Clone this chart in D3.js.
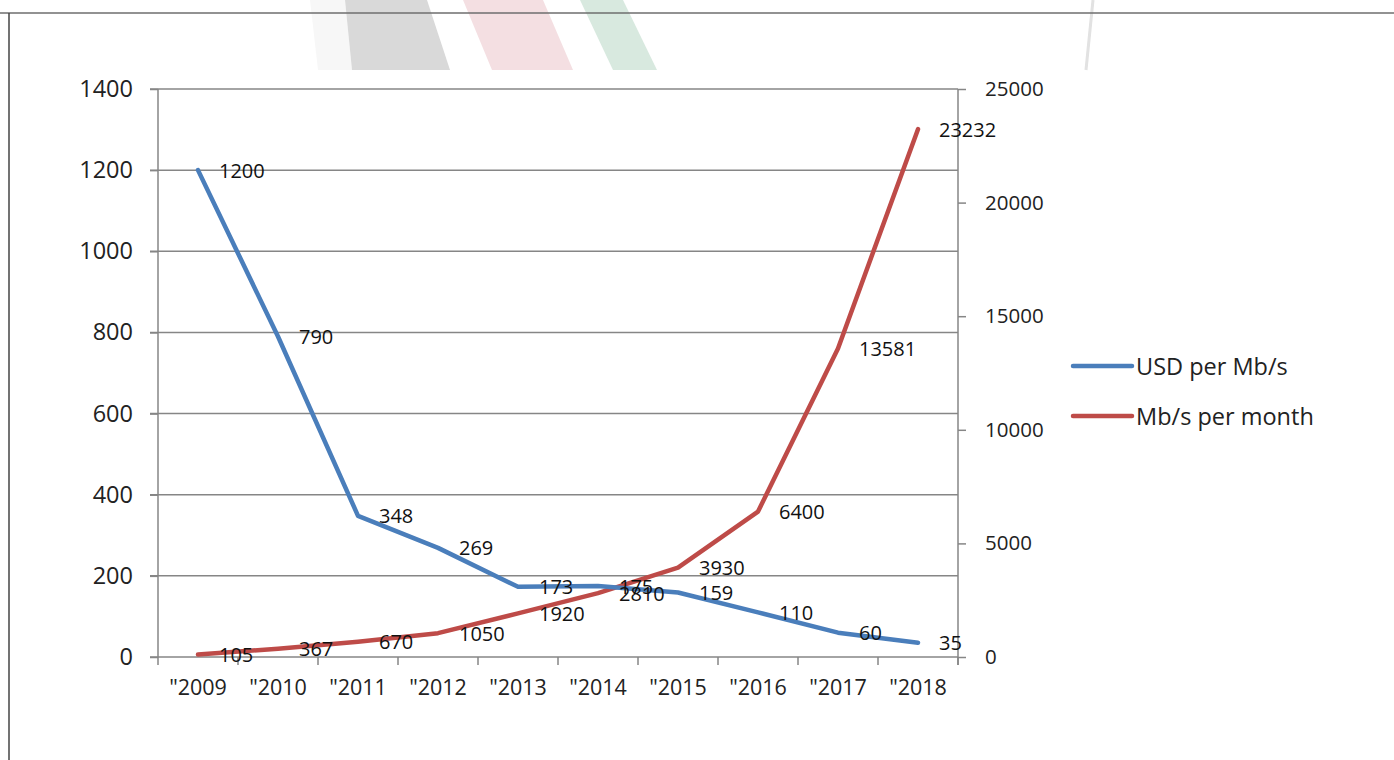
<!DOCTYPE html>
<html lang="en">
<head>
    <meta charset="UTF-8">
    <title>USD per Mb/s vs Mb/s per month</title>
    <script src="https://d3js.org/d3.v7.min.js"></script>
    <style>
        body {
            margin: 0;
            background: #fff;
        }

        svg {
            display: block;
        }

        svg text {
            font-family: "Open Sans", "DejaVu Sans", sans-serif;
        }

        .axis path {
            display: none;
        }

        .axis line {
            stroke: #868686;
            stroke-width: 1.5px;
        }

        .axis text {
            fill: #222;
        }
    </style>
</head>
<body>
    <script>
        // Data
        const years = ['"2009', '"2010', '"2011', '"2012', '"2013', '"2014', '"2015', '"2016', '"2017', '"2018'];
        const usdPerMbps = [1200, 790, 348, 269, 173, 175, 159, 110, 60, 35];
        const mbpsPerMonth = [105, 367, 670, 1050, 1920, 2810, 3930, 6400, 13581, 23232];
        const leftTicks = [0, 200, 400, 600, 800, 1000, 1200, 1400];
        const rightTicks = [0, 5000, 10000, 15000, 20000, 25000];
        const seriesNames = ["USD per Mb/s", "Mb/s per month"];

        const width = 1394;
        const height = 760;
        const plot = { left: 158, right: 958, top: 89, bottom: 657 };
        const blue = "#4a7ebb";
        const red = "#be4b48";

        const svg = d3.select("body")
            .append("svg")
            .attr("width", width)
            .attr("height", height);

        svg.append("rect")
            .attr("width", width)
            .attr("height", height)
            .attr("fill", "#fff");

        // Faded slide background peeking through at the top
        const deco = svg.append("g");
        deco.append("polygon")
            .attr("points", "310,0 345,0 352,70 318,70")
            .attr("fill", "#f7f7f7");
        deco.append("polygon")
            .attr("points", "345,0 427,0 450,70 352,70")
            .attr("fill", "#d9d9d9");
        deco.append("polygon")
            .attr("points", "463,0 543,0 573,70 492,70")
            .attr("fill", "#f4dfe2");
        deco.append("polygon")
            .attr("points", "580,0 623,0 657,70 613,70")
            .attr("fill", "#d8e9df");
        deco.append("line")
            .attr("x1", 1093).attr("y1", 0)
            .attr("x2", 1086).attr("y2", 70)
            .attr("stroke", "#e2e2e2")
            .attr("stroke-width", 3);

        // Frame of the chart object
        svg.append("line")
            .attr("x1", 0).attr("y1", 13)
            .attr("x2", width).attr("y2", 13)
            .attr("stroke", "#6e6e6e")
            .attr("stroke-width", 1.5);
        svg.append("line")
            .attr("x1", 9).attr("y1", 13)
            .attr("x2", 9).attr("y2", height)
            .attr("stroke", "#444")
            .attr("stroke-width", 1.5);

        // Scales
        const x = d3.scaleBand()
            .domain(years)
            .range([plot.left, plot.right])
            .padding(0);

        const yLeft = d3.scaleLinear()
            .domain([0, 1400])
            .range([plot.bottom, plot.top]);

        const yRight = d3.scaleLinear()
            .domain([0, 25000])
            .range([plot.bottom, plot.top]);

        const cx = d => x(d) + x.bandwidth() / 2;

        // Horizontal gridlines
        svg.append("g")
            .selectAll("line")
            .data(leftTicks)
            .enter()
            .append("line")
            .attr("x1", plot.left - 8)
            .attr("x2", plot.right)
            .attr("y1", d => yLeft(d))
            .attr("y2", d => yLeft(d))
            .attr("stroke", "#868686")
            .attr("stroke-width", 1.5);

        // Axis lines
        svg.append("line")
            .attr("x1", plot.left).attr("x2", plot.left)
            .attr("y1", plot.top).attr("y2", plot.bottom + 8)
            .attr("stroke", "#868686").attr("stroke-width", 1.5);
        svg.append("line")
            .attr("x1", plot.right).attr("x2", plot.right)
            .attr("y1", plot.top).attr("y2", plot.bottom + 8)
            .attr("stroke", "#868686").attr("stroke-width", 1.5);

        // Left axis
        svg.append("g")
            .attr("class", "axis")
            .attr("transform", `translate(${plot.left},0)`)
            .call(d3.axisLeft(yLeft).tickValues(leftTicks).tickFormat(d3.format("d")).tickSize(8).tickPadding(17))
            .selectAll("text")
            .style("font-size", "23.5px");

        // Right axis
        svg.append("g")
            .attr("class", "axis")
            .attr("transform", `translate(${plot.right},0)`)
            .call(d3.axisRight(yRight).tickValues(rightTicks).tickFormat(d3.format("d")).tickSize(8).tickPadding(19))
            .selectAll("text")
            .style("font-size", "20.5px");

        // Bottom axis: labels centred in each band, ticks on band edges
        const bottomAxis = svg.append("g")
            .attr("class", "axis")
            .attr("transform", `translate(0,${plot.bottom})`)
            .call(d3.axisBottom(x).tickSize(0).tickPadding(23));
        bottomAxis.selectAll("text").style("font-size", "21.5px");

        svg.append("g")
            .selectAll("line")
            .data(years)
            .enter()
            .append("line")
            .attr("x1", d => x(d) + x.bandwidth())
            .attr("x2", d => x(d) + x.bandwidth())
            .attr("y1", plot.bottom)
            .attr("y2", plot.bottom + 8)
            .attr("stroke", "#868686")
            .attr("stroke-width", 1.5);

        // Lines
        const blueLine = d3.line()
            .x((d, i) => cx(years[i]))
            .y(d => yLeft(d));

        const redLine = d3.line()
            .x((d, i) => cx(years[i]))
            .y(d => yRight(d));

        svg.append("path")
            .datum(mbpsPerMonth)
            .attr("d", redLine)
            .attr("fill", "none")
            .attr("stroke", red)
            .attr("stroke-width", 4.5)
            .attr("stroke-linecap", "round")
            .attr("stroke-linejoin", "round");

        svg.append("path")
            .datum(usdPerMbps)
            .attr("d", blueLine)
            .attr("fill", "none")
            .attr("stroke", blue)
            .attr("stroke-width", 4.5)
            .attr("stroke-linecap", "round")
            .attr("stroke-linejoin", "round");

        // Data labels, to the right of each point
        const labels = svg.append("g")
            .style("font-size", "20px")
            .attr("fill", "#111");

        labels.selectAll(".lblBlue")
            .data(usdPerMbps)
            .enter()
            .append("text")
            .attr("x", (d, i) => cx(years[i]) + 21)
            .attr("y", d => yLeft(d))
            .attr("dominant-baseline", "central")
            .text(d => d);

        labels.selectAll(".lblRed")
            .data(mbpsPerMonth)
            .enter()
            .append("text")
            .attr("x", (d, i) => cx(years[i]) + 21)
            .attr("y", d => yRight(d))
            .attr("dominant-baseline", "central")
            .text(d => d);

        // Legend
        const legend = svg.append("g")
            .attr("transform", "translate(1073,366)");

        const item = legend.selectAll("g")
            .data(seriesNames)
            .enter()
            .append("g")
            .attr("transform", (d, i) => `translate(0,${i * 50})`);

        item.append("line")
            .attr("x1", 0).attr("x2", 59)
            .attr("stroke", (d, i) => i === 0 ? blue : red)
            .attr("stroke-width", 4.5)
            .attr("stroke-linecap", "round");

        item.append("text")
            .attr("x", 63)
            .attr("dominant-baseline", "central")
            .style("font-size", "23.5px")
            .attr("fill", "#222")
            .text(d => d);
    </script>
</body>
</html>
